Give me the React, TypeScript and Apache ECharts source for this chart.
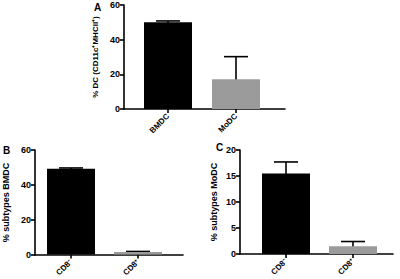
import React, { useEffect, useRef } from "react";
import * as echarts from "echarts";

const catsA = ["BMDC", "MoDC"];
const meanA = [50, 17.2];
const errA = [0.8, 13];

const catsB = ["CD8⁻", "CD8⁺"];
const meanB = [49.2, 1.5];
const errB = [0.5, 0.3];

const catsC = ["CD8⁻", "CD8⁺"];
const meanC = [15.5, 1.5];
const errC = [2.2, 0.9];

const barColors = ["#000000", "#9b9b9b"];
const FONT = "Liberation Sans, Arial, sans-serif";

type Panel = {
  cats: string[];
  mean: number[];
  err: number[];
  max: number;
  interval: number;
  name: string;
  nameGap: number;
  nameSize: number;
  outer: { left: number; top: number; width: number; height: number };
  inner: { left: number; width: number };
};

const panels: Panel[] = [
  {
    cats: catsA, mean: meanA, err: errA, max: 60, interval: 20,
    name: "% DC (CD11c⁺MHCII⁺)", nameGap: 25, nameSize: 8,
    outer: { left: 124, top: 5, width: 161, height: 104 },
    inner: { left: 134, width: 136 },
  },
  {
    cats: catsB, mean: meanB, err: errB, max: 60, interval: 20,
    name: "% subtypes BMDC", nameGap: 25, nameSize: 9,
    outer: { left: 25, top: 150, width: 158, height: 105 },
    inner: { left: 37.5, width: 134 },
  },
  {
    cats: catsC, mean: meanC, err: errC, max: 20, interval: 5,
    name: "% subtypes MoDC", nameGap: 22, nameSize: 9,
    outer: { left: 240, top: 150, width: 153, height: 104 },
    inner: { left: 252.5, width: 134 },
  },
];

export default function App() {
  const ref = useRef<HTMLDivElement>(null);
  useEffect(() => {
    document.body.style.margin = "0";
    const chart = echarts.init(ref.current!, null, { renderer: "svg" });
    const grid: any[] = [];
    const xAxis: any[] = [];
    const yAxis: any[] = [];
    const series: any[] = [];
    panels.forEach((p, i) => {
      grid.push({ left: p.outer.left, top: p.outer.top, width: p.outer.width, height: p.outer.height });
      grid.push({ left: p.inner.left, top: p.outer.top, width: p.inner.width, height: p.outer.height });
      const go = i * 2;
      const gi = i * 2 + 1;
      xAxis.push({
        type: "value", gridIndex: go, min: 0, max: 1,
        axisLine: { show: true, lineStyle: { color: "#000", width: 1.6 } },
        axisTick: { show: false }, axisLabel: { show: false }, splitLine: { show: false },
      });
      xAxis.push({
        type: "category", gridIndex: gi, data: p.cats,
        axisLine: { show: false },
        axisTick: { show: true, alignWithLabel: true, length: 4, lineStyle: { color: "#000", width: 1.6 } },
        axisLabel: { rotate: 45, fontSize: 8, fontWeight: "bold", color: "#000", fontFamily: FONT, margin: 6 },
        splitLine: { show: false },
      });
      yAxis.push({
        type: "value", gridIndex: go, min: 0, max: p.max, interval: p.interval,
        name: p.name, nameLocation: "middle", nameGap: p.nameGap,
        nameTextStyle: { fontSize: p.nameSize, fontWeight: "bold", color: "#000", fontFamily: FONT },
        axisLine: { show: true, lineStyle: { color: "#000", width: 1.6 } },
        axisTick: { show: true, length: 4, lineStyle: { color: "#000", width: 1.6 } },
        axisLabel: { fontSize: 9, fontWeight: "bold", color: "#000", fontFamily: FONT, margin: 4 },
        splitLine: { show: false },
      });
      yAxis.push({
        type: "value", gridIndex: gi, min: 0, max: p.max, interval: p.interval, show: false,
      });
      const ax = i * 2 + 1;
      series.push({
        type: "custom", xAxisIndex: ax, yAxisIndex: ax, z: 1,
        data: p.mean.map((m, k) => [k, m, p.err[k]]),
        renderItem: (params: any, api: any) => {
          const k = api.value(0);
          const m = api.value(1);
          const e = api.value(2);
          const base = api.coord([k, m]);
          const top = api.coord([k, m + e]);
          const hw = 12;
          return {
            type: "group",
            children: [
              { type: "line", shape: { x1: base[0], y1: base[1] + 1, x2: top[0], y2: top[1] }, style: { stroke: "#000", lineWidth: 1.6 } },
              { type: "line", shape: { x1: top[0] - hw, y1: top[1], x2: top[0] + hw, y2: top[1] }, style: { stroke: "#000", lineWidth: 1.6 } },
            ],
          };
        },
      });
      series.push({
        type: "bar", xAxisIndex: ax, yAxisIndex: ax, barWidth: 48, z: 2,
        data: p.mean.map((m, k) => ({ value: m, itemStyle: { color: barColors[k] } })),
      });
    });
    const letterStyle = { fontSize: 10, fontWeight: "bold", color: "#000", fontFamily: FONT };
    chart.setOption({
      animation: false,
      backgroundColor: "#fff",
      title: [
        { text: "A", left: 94, top: 2, padding: 0, textStyle: letterStyle },
        { text: "B", left: 3, top: 145, padding: 0, textStyle: letterStyle },
        { text: "C", left: 216, top: 142, padding: 0, textStyle: letterStyle },
      ],
      grid, xAxis, yAxis, series,
    });
    return () => chart.dispose();
  }, []);
  return <div ref={ref} style={{ position: "fixed", left: 0, top: 0, width: 400, height: 279 }} />;
}
